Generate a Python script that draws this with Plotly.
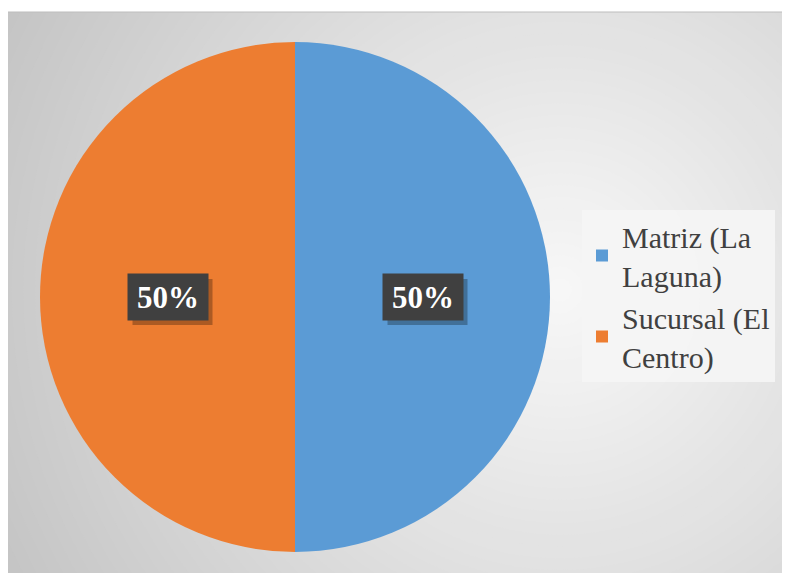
import plotly.graph_objects as go
import math

labels = ["Matriz (La<br>Laguna)", "Sucursal (El<br>Centro)"]
values = [50, 50]
colors = ["#5B9BD5", "#ED7D31"]

W, H = 790, 573
OX, OY = 8, 8  # page body offset compensation
fig = go.Figure()

def px2x(p):
    return (p - OX) / W

def py2y(p):
    return 1 - (p - OY) / H

# pie geometry (pixels in final picture)
cx, cy, R = 295, 297, 255
dom_x = [px2x(cx - R), px2x(cx + R)]
dom_y = [py2y(cy + R), py2y(cy - R)]

fig.add_trace(go.Pie(
    labels=labels, values=values, sort=False, direction="clockwise", rotation=0,
    marker=dict(colors=colors, line=dict(width=0)),
    textinfo="none", hoverinfo="label+percent",
    domain=dict(x=dom_x, y=dom_y),
))

# background gradient approximated with concentric circles
shapes = []
gx, gy = 560, 290
N = 60
maxr = 700
def col(d):
    stops = [(0, 248), (300, 224), (650, 194), (800, 190)]
    for (d0, c0), (d1, c1) in zip(stops, stops[1:]):
        if d <= d1:
            t = (d - d0) / (d1 - d0)
            return int(round(c0 + t * (c1 - c0)))
    return stops[-1][1]
shapes.append(dict(type="rect", xref="paper", yref="paper", x0=px2x(8), x1=1.05, y0=-0.05, y1=py2y(12),
                   fillcolor="rgb(194,194,194)", line=dict(width=0), layer="below"))
for i in range(N):
    r = maxr * (N - i) / N
    c = col(r)
    shapes.append(dict(type="circle", xref="paper", yref="paper",
                       x0=px2x(gx - r), x1=px2x(gx + r), y0=py2y(gy + r), y1=py2y(gy - r),
                       fillcolor=f"rgb({c},{c},{c})", line=dict(width=0), layer="below"))
# white top margin
shapes.append(dict(type="rect", xref="paper", yref="paper", x0=-0.05, x1=1.05, y0=py2y(12), y1=1.05,
                   fillcolor="white", line=dict(width=0), layer="below"))
shapes.append(dict(type="line", xref="paper", yref="paper", x0=px2x(8), x1=1.05, y0=py2y(12), y1=py2y(12),
                   line=dict(color="#bdbdbd", width=1), layer="below"))

# data labels at slice mid-angles
annotations = []
total = sum(values)
cum = 0
BW, BH = 80, 46
for v in values:
    mid = (cum + v / 2) / total * 2 * math.pi  # clockwise from top
    cum += v
    lx = cx + 0.5 * R * math.sin(mid)
    ly = cy - 0.5 * R * math.cos(mid)
    pct = f"{round(v / total * 100)}%"
    # drop shadow
    shapes.append(dict(type="rect", xref="paper", yref="paper", layer="above",
                       x0=px2x(lx - BW / 2 + 5), x1=px2x(lx + BW / 2 + 5),
                       y0=py2y(ly + BH / 2 + 5), y1=py2y(ly - BH / 2 + 5),
                       fillcolor="rgba(0,0,0,0.28)", line=dict(width=0)))
    annotations.append(dict(x=px2x(lx), y=py2y(ly), xref="paper", yref="paper",
                            xanchor="center", yanchor="middle",
                            text=f"<b>{pct}</b>", showarrow=False, bgcolor="#404040",
                            font=dict(family="Liberation Serif", size=31, color="white"),
                            borderpad=4, width=BW - 8, height=BH - 8))

fig.update_layout(
    width=W, height=H, margin=dict(l=0, r=0, t=0, b=0),
    paper_bgcolor="white", plot_bgcolor="white",
    shapes=shapes, annotations=annotations,
    showlegend=True,
    legend=dict(x=px2x(582), y=py2y(210), xanchor="left", yanchor="top",
                bgcolor="rgba(245,245,245,0.9)", borderwidth=0,
                font=dict(family="Liberation Serif, Times New Roman, serif", size=30, color="#404040"),
                itemwidth=30, tracegroupgap=0),
)

fig.write_html("out.html")
